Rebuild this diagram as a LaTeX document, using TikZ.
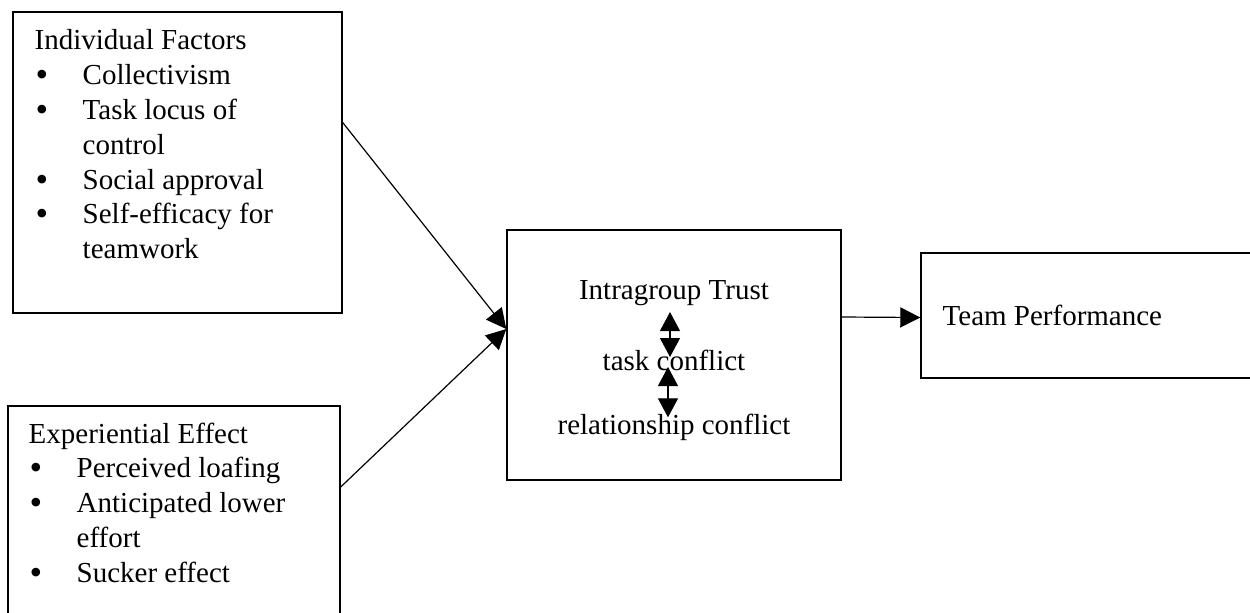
\documentclass[tikz,border=0pt]{standalone}
\usepackage{fontspec}
\setmainfont{Liberation Serif}
\usepackage{tikz}
\usetikzlibrary{positioning,arrows.meta}
\newcommand{\bull}{\makebox[24pt][l]{\hspace{0.5pt}\smash{\raisebox{-1pt}{\fontsize{18}{18}\selectfont\textbullet}}}}
\newcommand{\cont}{\hspace*{24pt}}
\tikzset{box/.style={draw,line width=0.7pt,rectangle,inner sep=0pt},
    list/.style={inner sep=0pt,align=left,font=\fontsize{14.5}{17.4}\selectfont},
    words/.style={inner sep=0pt,font=\fontsize{14.5}{17.4}\selectfont},
    arr/.style={draw,line width=0.6pt,-{Triangle[length=10pt,width=10pt]}},
    dbl/.style={draw,line width=0.6pt,
    {Triangle[length=9.5pt,width=10pt]}-{Triangle[length=9.5pt,width=10pt]}}}

\begin{document}
\begin{tikzpicture}[x=0.5pt,y=-0.5pt]
\useasboundingbox (0,0) rectangle (1250,612);
% boxes
\node[box,minimum width=164.5pt,minimum height=150.5pt] (indiv) at (177.5,162.5) {};
\node[box,minimum width=166pt,minimum height=127pt] (exper) at (174,533) {};
\node[box,minimum width=167pt,minimum height=125pt] (mid) at (674,355) {};
\node[box,minimum width=184.5pt,minimum height=62.5pt] (team) at (1105.5,315.5) {};
% texts
\node[list,below right=9pt and 11pt of indiv.north west] (indivlist)
{Individual Factors\\
\bull Collectivism\\
\bull Task locus of\\
\cont control\\
\bull Social approval\\
\bull Self-efficacy for\\
\cont teamwork};
\node[list,below right=8.5pt and 10.5pt of exper.north west] (experlist)
{Experiential Effect\\
\bull Perceived loafing\\
\bull Anticipated lower\\
\cont effort\\
\bull Sucker effect};
\node[words] (trust) at (674,293) {Intragroup Trust};
\node[words] (task) at (674,360) {task conflict};
\node[words] (rel) at (674,427) {relationship conflict};
\node[words,right=11pt of team.west] (perf) {Team Performance};
% arrows
\coordinate (meet) at ([yshift=13pt]mid.west);
\draw[arr] ([yshift=20pt]indiv.east) -- (meet);
\draw[arr] ([yshift=23pt]exper.east) -- (meet);
\draw[arr] ([yshift=19pt]mid.east) -- ([yshift=-1pt]team.west);
\draw[dbl] ([xshift=-2pt,yshift=-3pt]trust.south) -- ([xshift=-2pt,yshift=1.5pt]task.center);
\draw[dbl] ([xshift=-3pt,yshift=-3.5pt]task.center) -- ([xshift=-3pt,yshift=-2pt]rel.north);
\end{tikzpicture}
\end{document}
